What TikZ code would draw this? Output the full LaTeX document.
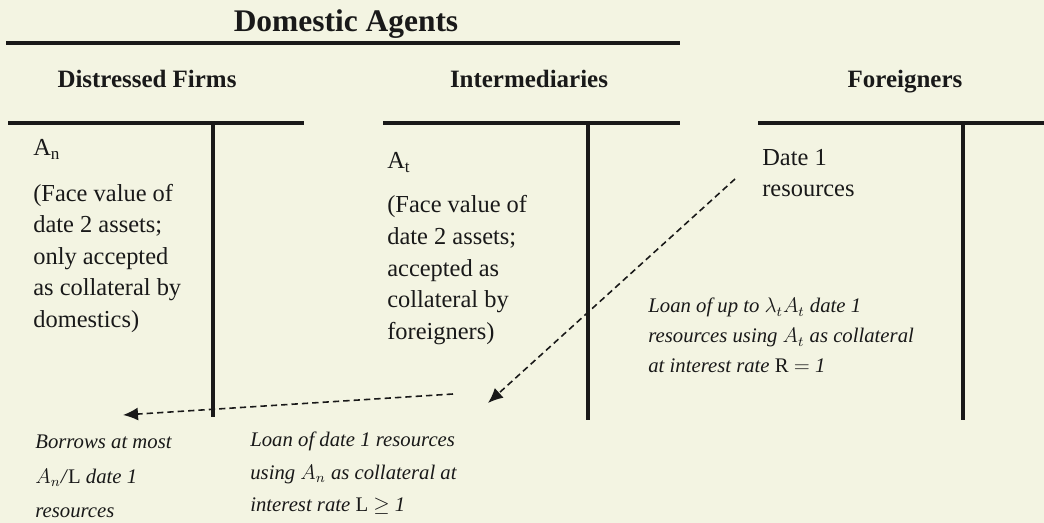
\documentclass[tikz,border=0pt]{standalone}
\usepackage{fontspec}
\setmainfont{Liberation Serif}
\usetikzlibrary{arrows.meta}
\definecolor{paper}{RGB}{243,244,226}
\definecolor{ink}{RGB}{25,25,25}
\tikzset{
  head/.style={font=\bfseries\fontsize{14.2}{17}\selectfont, text=ink, inner sep=0pt, anchor=base},
  body/.style={font=\fontsize{13.9}{18}\selectfont, align=left, anchor=north west, inner sep=0pt, text=ink},
  note/.style={font=\itshape\fontsize{11.8}{18.5}\selectfont, align=left, anchor=north west, inner sep=0pt, text=ink},
  tline/.style={line width=2.2pt, ink},
  loan/.style={->, dashed, dash pattern=on 3.6pt off 2.3pt, line width=0.9pt, ink}
}
\begin{document}
\begin{tikzpicture}[x=0.02cm, y=-0.02cm, >={Latex[length=0.3cm,width=0.26cm]}]
  \fill[paper] (0,0) rectangle (1044,523);
  \useasboundingbox (0,0) rectangle (1044,523);

  % headings
  \node[head, font=\bfseries\fontsize{17.9}{20}\selectfont] (dom) at (346,32) {Domestic Agents};
  \draw[line width=1.8pt, ink] (6,43) -- (680,43);
  \node[head] (firms) at (147,88) {Distressed Firms};
  \node[head] (inter) at (529,88) {Intermediaries};
  \node[head] (foreign) at (905,88) {Foreigners};

  % T-accounts
  \draw[tline] (8,123) -- (304,123);
  \draw[tline] (213,123) -- (213,417);
  \draw[tline] (383,123) -- (680,123);
  \draw[tline] (588,123) -- (588,420);
  \draw[tline] (758,123) -- (1044,123);
  \draw[tline] (963,123) -- (963,420);

  % balance sheet entries
  \node[body] (An) at (33,139) {A\textsubscript{n}};
  \node[body, font=\fontsize{13.9}{17.9}\selectfont] (firmsTxt) at (33,184)
    {(Face value of\\date 2 assets;\\only accepted\\as collateral by\\domestics)};
  \node[body] (At) at (387,152) {A\textsubscript{t}};
  \node[body, font=\fontsize{13.9}{18.1}\selectfont] (interTxt) at (387,195)
    {(Face value of\\date 2 assets;\\accepted as\\collateral by\\foreigners)};
  \node[body, font=\fontsize{13.9}{17.6}\selectfont] (date1) at (762,149) {Date 1\\resources};

  % loans
  \node[note, font=\itshape\fontsize{11.8}{17}\selectfont] (loanT) at (648,298)
    {Loan of up to $\lambda_t A_t$ date 1\\resources using $A_t$ as collateral\\at interest rate \textup{R} $=$ 1};
  \node[note] (loanN) at (250,432)
    {Loan of date 1 resources\\using $A_n$ as collateral at\\interest rate \textup{L} $\geq$ 1};
  \node[note, font=\itshape\fontsize{11.8}{19.5}\selectfont] (borrow) at (35,435)
    {Borrows at most\\$A_n$/\textup{L} date 1\\resources};

  \coordinate (fromF) at (735,179);
  \coordinate (toI) at (488,403);
  \coordinate (fromI) at (453,394);
  \coordinate (toD) at (123,415);
  \draw[loan] (fromF) -- (toI);
  \draw[loan] (fromI) -- (toD);
\end{tikzpicture}
\end{document}
